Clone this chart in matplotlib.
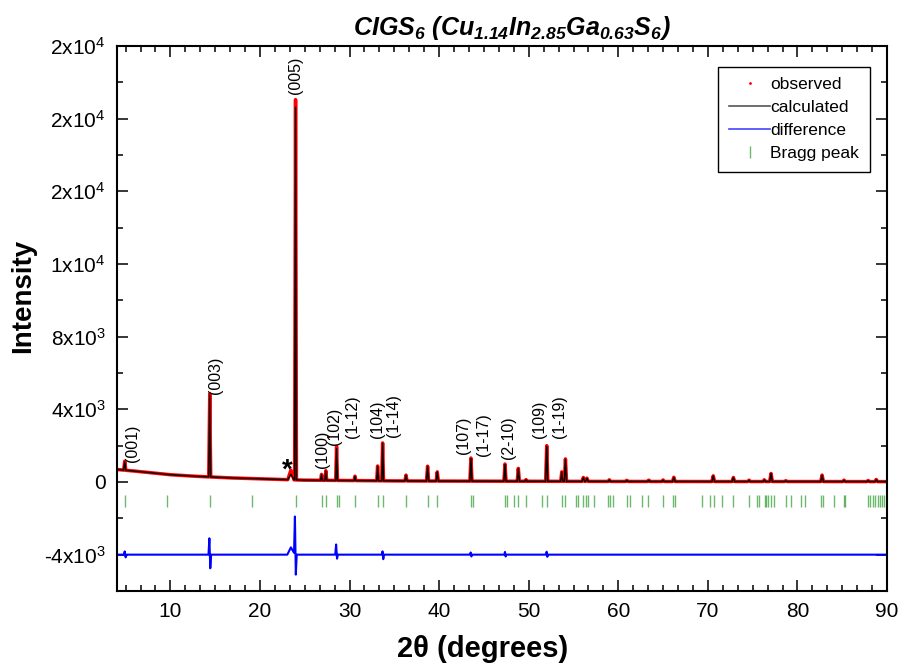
import numpy as np
import matplotlib
matplotlib.use('Agg')
import matplotlib.pyplot as plt
from matplotlib.lines import Line2D
from matplotlib.ticker import MultipleLocator

plt.rcParams['font.family'] = ['Liberation Sans', 'DejaVu Sans']
plt.rcParams['mathtext.default'] = 'regular'

# background of the powder pattern
bg_two_theta = [4, 6, 10, 13, 17, 21, 25, 30, 35, 40, 50, 60, 70, 80, 90]
bg_counts = [690, 600, 400, 310, 220, 160, 100, 80, 60, 50, 40, 30, 25, 25, 20]

# reflections: position, calculated apex, observed apex, half base width
peak_two_theta = [4.9, 14.39, 23.45, 23.97, 26.87, 27.35, 28.55, 30.6, 33.13,
                  33.69, 36.3, 38.71, 39.79, 43.55, 47.35, 48.84, 49.7, 52.01,
                  53.69, 54.1, 56.1, 56.5, 59.0, 60.95, 63.4, 65.0, 66.2,
                  70.6, 72.85, 74.6, 76.3, 77.05, 78.7, 82.75, 85.2, 87.9, 88.8]
peak_calc = [1100, 4770, 420, 20630, 400, 600, 1840, 310, 860,
             2130, 370, 860, 550, 1290, 960, 740, 120, 1960,
             550, 1250, 240, 200, 110, 80, 90, 100, 250,
             330, 240, 90, 110, 460, 60, 370, 90, 70, 130]
peak_obs = [1150, 4850, 650, 21050, 420, 620, 1950, 320, 880,
            2150, 380, 870, 560, 1320, 990, 750, 130, 2000,
            560, 1270, 250, 210, 120, 90, 100, 110, 260,
            340, 250, 100, 120, 470, 70, 380, 100, 80, 140]
peak_half_width = [0.12, 0.11, 0.35, 0.1, 0.1, 0.1, 0.1, 0.1, 0.1,
                   0.1, 0.12, 0.12, 0.12, 0.12, 0.12, 0.12, 0.12, 0.12,
                   0.12, 0.12, 0.15, 0.15, 0.15, 0.15, 0.15, 0.15, 0.15,
                   0.15, 0.15, 0.15, 0.15, 0.15, 0.15, 0.15, 0.15, 0.15, 0.15]

# residual (obs - calc) before the -4000 offset
diff_two_theta = [4.0, 4.8, 4.9, 5.0, 5.1,
                  14.25, 14.35, 14.45, 14.55,
                  23.05, 23.45, 23.8, 23.9, 24.0, 24.1,
                  28.4, 28.5, 28.6, 28.7,
                  33.6, 33.68, 33.76, 33.85,
                  43.45, 43.52, 43.6, 43.68,
                  47.28, 47.35, 47.42, 47.5,
                  51.95, 52.0, 52.08, 52.15,
                  90.0]
diff_counts = [0, 0, 180, -150, 0,
               0, 900, -750, 0,
               0, 400, 100, 2100, -1100, 0,
               0, 560, -220, 0,
               0, 180, -250, 0,
               0, 120, -100, 0,
               0, 150, -100, 0,
               0, 160, -120, 0,
               0]
diff_offset = -4000

bragg_two_theta = [4.89, 9.66, 14.39, 19.16, 23.97, 26.87, 27.35, 28.55, 28.8,
                   30.59, 33.13, 33.69, 36.29, 38.71, 39.79, 43.52, 43.74,
                   47.35, 47.58, 48.39, 48.84, 49.70, 51.45, 52.01, 53.69,
                   54.06, 55.29, 55.47, 56.10, 56.37, 56.66, 57.30, 58.90,
                   59.08, 59.38, 60.95, 61.32, 62.63, 63.37, 64.97, 66.16,
                   66.35, 69.33, 70.26, 70.63, 71.56, 72.86, 74.61, 75.47,
                   75.66, 76.33, 76.51, 76.70, 77.04, 77.33, 78.72, 79.27,
                   80.42, 80.79, 82.66, 82.80, 84.11, 85.15, 85.34, 87.83,
                   88.06, 88.43, 88.69, 88.95, 89.17, 89.40, 89.62]
bragg_level = -1070

label_text = ['(001)', '(003)', '(005)', '(100)', '(102)', '(1-12)', '(104)',
              '(1-14)', '(107)', '(1-17)', '(2-10)', '(109)', '(1-19)']
label_two_theta = [5.8, 15.06, 23.97, 26.95, 28.3, 30.33, 33.13,
                   34.87, 42.7, 44.93, 47.72, 51.18, 53.42]
label_counts = [1100, 4850, 21370, 770, 2020, 2440, 2440,
                2470, 1520, 1410, 1290, 2440, 2440]

y_ticks = [-4000, 0, 4000, 8000, 12000, 16000, 20000, 24000]
y_tick_labels = ['-4x10$^3$', '0', '4x10$^3$', '8x10$^3$', '1x10$^4$',
                 '2x10$^4$', '2x10$^4$', '2x10$^4$']
x_ticks = [10, 20, 30, 40, 50, 60, 70, 80, 90]


def profile(apex):
    xs = list(bg_two_theta)
    ys = list(bg_counts)
    for p, h, w in zip(peak_two_theta, apex, peak_half_width):
        for x in (p - w, p + w):
            xs.append(x)
            ys.append(np.interp(x, bg_two_theta, bg_counts))
        xs.append(p)
        ys.append(h)
    order = np.argsort(xs)
    return np.asarray(xs)[order], np.asarray(ys)[order]


x_obs, y_obs = profile(peak_obs)
x_calc, y_calc = profile(peak_calc)

fig = plt.figure(figsize=(9.03, 6.68), dpi=100)
ax = fig.add_axes([0.1292, 0.1153, 0.8531, 0.8158])

ax.plot(x_obs, y_obs, color='red', lw=2.5, solid_joinstyle='round')
ax.plot(x_calc, y_calc, color='black', lw=1.0)
ax.plot(diff_two_theta, np.asarray(diff_counts) + diff_offset, color='blue', lw=1.5)
ax.plot(bragg_two_theta, np.full(len(bragg_two_theta), bragg_level), ls='none',
        marker='|', markersize=8, mew=1.0, color='#2e9a2e', alpha=0.7)

for t, x, y in zip(label_text, label_two_theta, label_counts):
    ax.text(x, y, t, rotation=90, ha='center', va='bottom', fontsize=11.5)
ax.text(23.0, 650, '*', ha='center', va='center', fontsize=20, fontweight='bold')

ax.set_xlim(4, 90)
ax.set_ylim(-6000, 24000)
ax.set_xticks(x_ticks)
ax.set_yticks(y_ticks, labels=y_tick_labels)
ax.xaxis.set_minor_locator(MultipleLocator(10 / 6))
ax.yaxis.set_minor_locator(MultipleLocator(2000))
ax.tick_params(which='both', direction='in', top=True, right=True,
               width=1.1, labelsize=15)
ax.tick_params(which='major', length=8, pad=8)
ax.tick_params(which='minor', length=4)
for s in ax.spines.values():
    s.set_linewidth(1.5)

ax.set_xlabel('2θ (degrees)', fontsize=21, fontweight='bold')
ax.set_ylabel('Intensity', fontsize=20, fontweight='bold')
ax.xaxis.set_label_coords(0.4755, -0.081)
ax.yaxis.set_label_coords(-0.104, 0.541)

fig.text(512 / 903, 1 - 28 / 668,
         'CIGS$_6$ (Cu$_{1.14}$In$_{2.85}$Ga$_{0.63}$S$_6$)',
         ha='center', va='center', fontsize=18, fontweight='bold', style='italic')

handles = [
    Line2D([], [], ls='none', marker='.', markersize=2, color='red'),
    Line2D([], [], color='#555555', lw=1.2),
    Line2D([], [], color='#4444ff', lw=1.2),
    Line2D([], [], ls='none', marker='|', markersize=8, color='#2e9a2e', alpha=0.7),
]
leg = ax.legend(handles, ['observed', 'calculated', 'difference', 'Bragg peak'],
                loc='upper left', bbox_to_anchor=(0.781, 0.962), fontsize=12.5,
                frameon=True, fancybox=False, edgecolor='black', framealpha=1,
                handlelength=2.4, handletextpad=0.0, labelspacing=0.45,
                borderpad=0.6, borderaxespad=0)
leg.get_frame().set_linewidth(1.0)

fig.savefig('out.png', dpi=100)
